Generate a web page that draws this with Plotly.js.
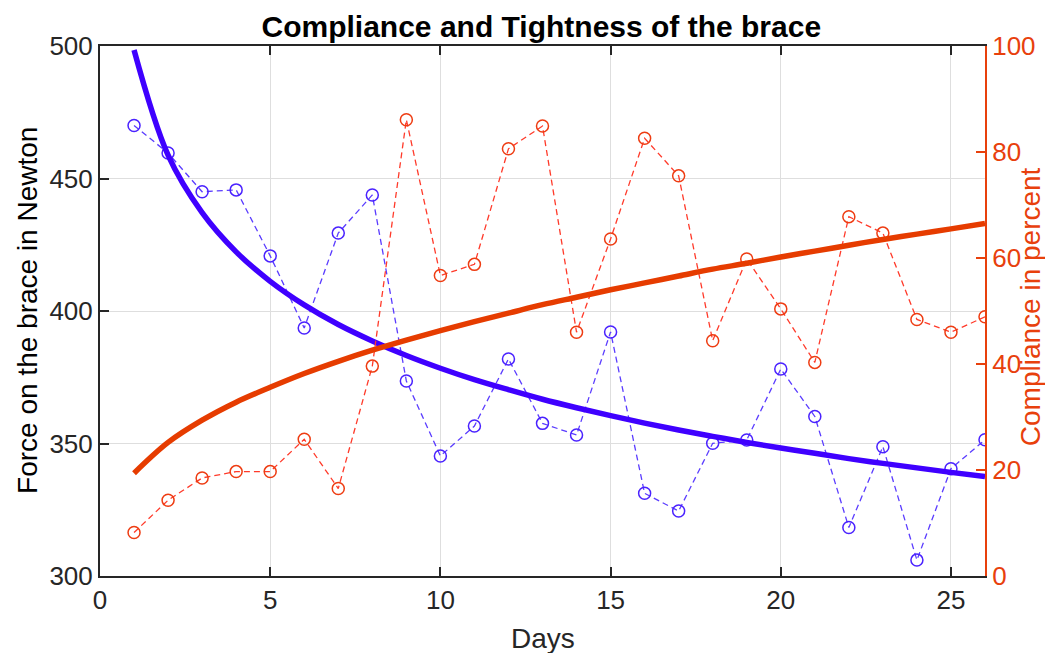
<!DOCTYPE html>
<html>
<head>
<meta charset="utf-8">
<script src="https://cdn.plot.ly/plotly-3.0.1.min.js"></script>
<style>html,body{margin:0;padding:0;background:#fff;}#chart{width:1045px;height:653px;}</style>
</head>
<body>
<div id="chart"></div>
<script>
const days = [1,2,3,4,5,6,7,8,9,10,11,12,13,14,15,16,17,18,19,20,21,22,23,24,25,26];
const forceNewton = [470,459.6,445,445.7,420.8,393.6,429.4,443.8,373.6,345.3,356.6,381.9,357.6,353.2,392.1,331.2,324.5,350.1,351.3,378.1,360.2,318.3,348.8,306,340.5,351.4];
const compliancePct = [8.2,14.3,18.5,19.7,19.7,25.8,16.5,39.6,86.1,56.7,58.8,80.6,84.9,46,63.6,82.6,75.5,44.4,59.8,50.4,40.3,67.8,64.7,48.4,46,48.9];
const forceFit = [498.5,458.8,437.1,422.3,411.2,402.3,394.9,388.7,383.2,378.4,374.1,370.3,366.7,363.5,360.5,357.7,355.1,352.7,350.4,348.3,346.3,344.3,342.5,340.8,339.1,337.5];
const complianceFit = [19.4,25.2,29.4,32.8,35.6,38.2,40.5,42.6,44.5,46.3,48.0,49.6,51.2,52.6,54.0,55.3,56.6,57.9,59.0,60.2,61.3,62.4,63.5,64.5,65.5,66.5];
const xTicks = [0,5,10,15,20,25];
const yTicks = [300,350,400,450,500];
const y2Ticks = [0,20,40,60,80,100];

const FONT = 'Liberation Sans, Arial, Helvetica, sans-serif';
const ORANGE = '#e8400c';

const traces = [
  {x: days, y: forceNewton, type: 'scatter', mode: 'lines+markers', yaxis: 'y',
   line: {color: '#5a3cff', width: 1.3, dash: '6px,4px'},
   marker: {symbol: 'circle-open', size: 12, color: '#4a22ff', line: {width: 1.5, color: '#4a22ff'}}},
  {x: days, y: forceFit, type: 'scatter', mode: 'lines', yaxis: 'y',
   line: {color: '#3f00ff', width: 5.5, shape: 'spline'}},
  {x: days, y: compliancePct, type: 'scatter', mode: 'lines+markers', yaxis: 'y2',
   line: {color: '#ff3a2a', width: 1.3, dash: '6px,4px'},
   marker: {symbol: 'circle-open', size: 12, color: '#ee3c12', line: {width: 1.5, color: '#ee3c12'}}},
  {x: days, y: complianceFit, type: 'scatter', mode: 'lines', yaxis: 'y2',
   line: {color: '#e63c00', width: 5.5, shape: 'spline'}}
];

const layout = {
  width: 1045, height: 653,
  margin: {l: 100, r: 60, t: 46, b: 77},
  showlegend: false,
  paper_bgcolor: '#ffffff', plot_bgcolor: '#ffffff',
  font: {family: FONT, size: 26, color: '#262626'},
  title: {text: '<b>Compliance and Tightness of the brace</b>', font: {family: FONT, size: 30, color: '#000'},
          x: 0.518, xanchor: 'center', y: 0.96, yanchor: 'middle'},
  xaxis: {
    range: [0, 26], tickvals: xTicks, ticktext: xTicks.map(String),
    showgrid: true, gridcolor: '#dedede', gridwidth: 1, zeroline: false,
    showline: true, linecolor: '#262626', linewidth: 2, mirror: 'ticks',
    ticks: 'inside', ticklen: 9, tickwidth: 2, tickcolor: '#262626',
    tickfont: {family: FONT, size: 26, color: '#262626'}
  },
  yaxis: {
    range: [300, 500], tickvals: yTicks, ticktext: yTicks.map(String),
    showgrid: true, gridcolor: '#dedede', gridwidth: 1, zeroline: false,
    showline: true, linecolor: '#262626', linewidth: 2,
    ticks: 'inside', ticklen: 9, tickwidth: 2, tickcolor: '#262626',
    tickfont: {family: FONT, size: 26, color: '#262626'}
  },
  yaxis2: {
    overlaying: 'y', side: 'right', anchor: 'x',
    range: [0, 100], tickvals: y2Ticks, ticktext: y2Ticks.map(String),
    showgrid: false, zeroline: false,
    showline: true, linecolor: ORANGE, linewidth: 2,
    ticks: 'inside', ticklen: 9, tickwidth: 2, tickcolor: ORANGE,
    tickfont: {family: FONT, size: 26, color: ORANGE}
  },
  annotations: [
    {text: 'Compliance in percent', xref: 'paper', yref: 'paper',
     x: 1.0508, y: 0.509, xanchor: 'center', yanchor: 'middle', textangle: -90,
     showarrow: false, font: {family: FONT, size: 28, color: ORANGE}},
    {text: 'Force on the brace in Newton', xref: 'paper', yref: 'paper',
     x: -0.0814, y: 0.502, xanchor: 'center', yanchor: 'middle', textangle: -90,
     showarrow: false, font: {family: FONT, size: 28, color: '#000'}},
    {text: 'Days', xref: 'paper', yref: 'paper',
     x: 0.5, y: -0.117, xanchor: 'center', yanchor: 'middle',
     showarrow: false, font: {family: FONT, size: 28, color: '#262626'}}
  ]
};

Plotly.newPlot('chart', traces, layout, {displayModeBar: false, staticPlot: true});
</script>
</body>
</html>
